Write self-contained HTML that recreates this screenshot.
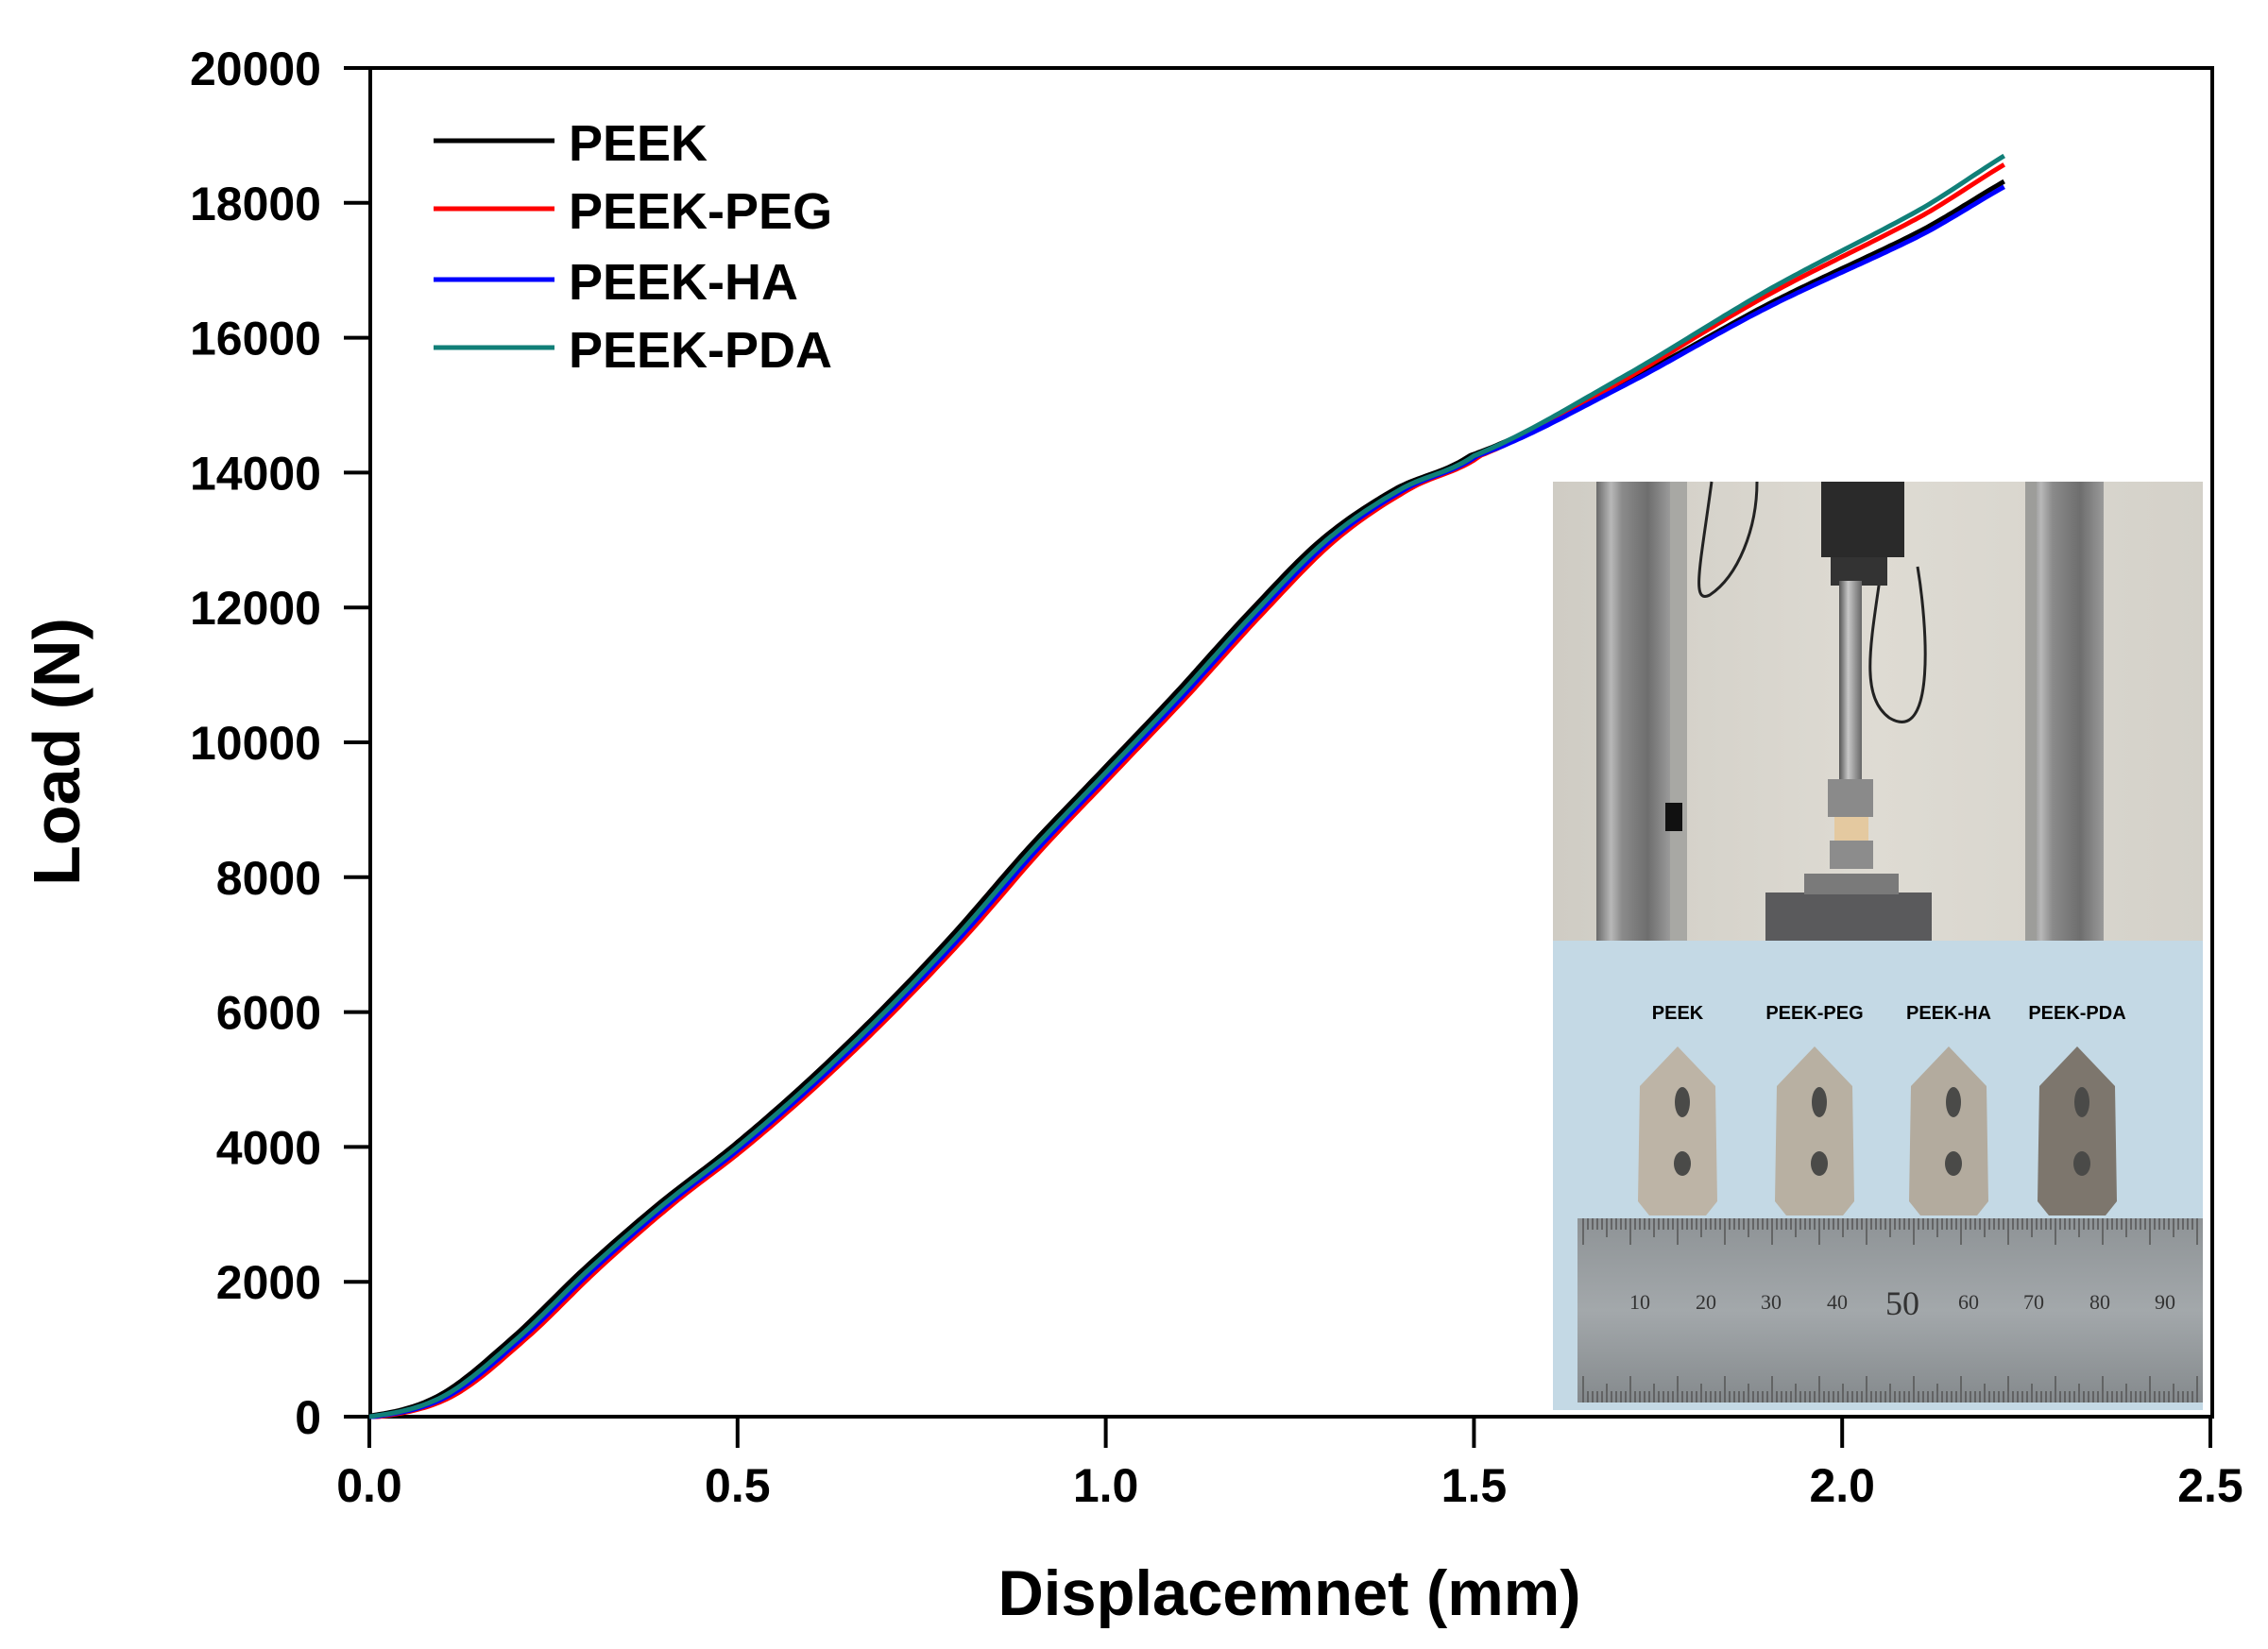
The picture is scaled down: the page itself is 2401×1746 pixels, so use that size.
<!DOCTYPE html>
<html><head><meta charset="utf-8"><style>
html,body{margin:0;padding:0;background:#fff;}
svg{display:block;}
text{font-family:"Liberation Sans",Arial,sans-serif;font-weight:bold;fill:#000;}
</style></head><body>
<svg id="s" width="2401" height="1746" viewBox="0 0 2401 1746" xmlns="http://www.w3.org/2000/svg">
<rect width="2401" height="1746" fill="#fff"/>
<defs>
<linearGradient id="wall" x1="0" x2="1"><stop offset="0" stop-color="#cfccc4"/><stop offset="0.5" stop-color="#dedbd3"/><stop offset="1" stop-color="#d4d1c9"/></linearGradient>
<linearGradient id="col" x1="0" x2="1"><stop offset="0" stop-color="#6a6a6a"/><stop offset="0.2" stop-color="#b8b8b8"/><stop offset="0.35" stop-color="#8a8a8a"/><stop offset="0.7" stop-color="#6e6e6e"/><stop offset="1" stop-color="#9a9a9a"/></linearGradient>
<linearGradient id="rod" x1="0" x2="1"><stop offset="0" stop-color="#555"/><stop offset="0.4" stop-color="#c8c8c8"/><stop offset="1" stop-color="#666"/></linearGradient>
<linearGradient id="rul" x1="0" y1="0" x2="0" y2="1"><stop offset="0" stop-color="#8e9396"/><stop offset="0.5" stop-color="#a3a8ab"/><stop offset="1" stop-color="#858a8d"/></linearGradient>
</defs>
<g>
<rect x="1644" y="510" width="688" height="486" fill="url(#wall)"/>
<rect x="1690" y="510" width="78" height="486" fill="url(#col)"/>
<rect x="1768" y="510" width="18" height="486" fill="#a8a8a4"/>
<rect x="2144" y="510" width="83" height="486" fill="url(#col)"/>
<rect x="2144" y="510" width="12" height="486" fill="#9d9d9a"/>
<path d="M1812 510 C1800 600 1790 640 1810 630 C1840 610 1860 560 1860 510" fill="none" stroke="#222" stroke-width="3"/>
<path d="M2000 530 C1990 650 1960 730 2000 760 C2050 790 2040 660 2030 600" fill="none" stroke="#222" stroke-width="3"/>
<rect x="1928" y="510" width="88" height="80" fill="#2a2a2a"/>
<rect x="1938" y="590" width="60" height="30" fill="#333"/>
<rect x="1947" y="615" width="24" height="210" fill="url(#rod)"/>
<rect x="1935" y="825" width="48" height="40" fill="#8a8a8a"/>
<rect x="1942" y="865" width="36" height="25" fill="#e4c9a0"/>
<rect x="1937" y="890" width="46" height="30" fill="#8c8c8c"/>
<rect x="1869" y="945" width="176" height="51" fill="#5a5a5c"/>
<rect x="1910" y="925" width="100" height="22" fill="#7a7a7a"/>
<rect x="1763" y="850" width="18" height="30" fill="#111"/>
<rect x="1644" y="996" width="688" height="497" fill="#c4d9e5"/>
<g font-size="20">
<text x="1776" y="1079" text-anchor="middle" fill="#222">PEEK</text>
<text x="1921" y="1079" text-anchor="middle" fill="#222">PEEK-PEG</text>
<text x="2063" y="1079" text-anchor="middle" fill="#222">PEEK-HA</text>
<text x="2199" y="1079" text-anchor="middle" fill="#222">PEEK-PDA</text>
</g>
<g id="imps"></g>
<rect x="1670" y="1290" width="662" height="195" fill="url(#rul)"/>
<g id="ticks" stroke="#555" stroke-width="1.5"></g>
<g>
<text x="1736" y="1386" text-anchor="middle" font-size="22" style="font-family:'Liberation Serif';font-weight:normal;fill:#333">10</text>
<text x="1806" y="1386" text-anchor="middle" font-size="22" style="font-family:'Liberation Serif';font-weight:normal;fill:#333">20</text>
<text x="1875" y="1386" text-anchor="middle" font-size="22" style="font-family:'Liberation Serif';font-weight:normal;fill:#333">30</text>
<text x="1945" y="1386" text-anchor="middle" font-size="22" style="font-family:'Liberation Serif';font-weight:normal;fill:#333">40</text>
<text x="2014" y="1392" text-anchor="middle" font-size="36" style="font-family:'Liberation Serif';font-weight:normal;fill:#333">50</text>
<text x="2084" y="1386" text-anchor="middle" font-size="22" style="font-family:'Liberation Serif';font-weight:normal;fill:#333">60</text>
<text x="2153" y="1386" text-anchor="middle" font-size="22" style="font-family:'Liberation Serif';font-weight:normal;fill:#333">70</text>
<text x="2223" y="1386" text-anchor="middle" font-size="22" style="font-family:'Liberation Serif';font-weight:normal;fill:#333">80</text>
<text x="2292" y="1386" text-anchor="middle" font-size="22" style="font-family:'Liberation Serif';font-weight:normal;fill:#333">90</text>
</g>
</g>
<rect x="392" y="72" width="1950" height="1428" fill="none" stroke="#000" stroke-width="4"/>
<g id="axticks" stroke="#000" stroke-width="4"></g>
<g id="ylab" font-size="50" text-anchor="end"></g>
<g id="xlab" font-size="50" text-anchor="middle"></g>
<text x="1365" y="1710" font-size="68" text-anchor="middle" textLength="617" lengthAdjust="spacingAndGlyphs">Displacemnet (mm)</text>
<text transform="translate(84,796) rotate(-90)" font-size="70" text-anchor="middle">Load (N)</text>
<line x1="459" y1="149" x2="587" y2="149" stroke="#000" stroke-width="5"/>
<line x1="459" y1="221" x2="587" y2="221" stroke="#f00" stroke-width="5"/>
<line x1="459" y1="296" x2="587" y2="296" stroke="#00f" stroke-width="5"/>
<line x1="459" y1="368" x2="587" y2="368" stroke="#117f78" stroke-width="5"/>
<g font-size="54">
<text x="602" y="170">PEEK</text>
<text x="602" y="242">PEEK-PEG</text>
<text x="602" y="317">PEEK-HA</text>
<text x="602" y="389">PEEK-PDA</text>
</g>
<g id="curves" fill="none" stroke-width="5" stroke-linejoin="round"></g>
</svg>
<script>
var NS="http://www.w3.org/2000/svg";
function el(p,t,a){var e=document.createElementNS(NS,t);for(var k in a)e.setAttribute(k,a[k]);document.getElementById(p).appendChild(e);return e;}
var X=function(d){return 391+d*779.6}, Y=function(L){return 1500-L*0.0714};
for(var i=0;i<=10;i++){var L=i*2000,y=Y(L);el('axticks','line',{x1:364,y1:y,x2:392,y2:y});
 var t=el('ylab','text',{x:340,y:y+18});t.textContent=L;}
for(var i=0;i<=5;i++){var x=X(i*0.5);el('axticks','line',{x1:x,y1:1500,x2:x,y2:1533});
 var t=el('xlab','text',{x:x,y:1590});t.textContent=(i*0.5).toFixed(1);}
var base=[[0,0],[0.1,300],[0.2,1150],[0.3,2200],[0.4,3150],[0.5,4000],[0.6,4950],[0.7,6000],[0.8,7150],[0.9,8400],[1.0,9550],[1.1,10700],[1.2,11900],[1.3,13000],[1.4,13750],[1.5,14250],[1.7,15300],[1.9,16500],[2.1,17550],[2.3,18700]];
function interp(d){for(var i=1;i<base.length;i++){if(d<=base[i][0]){var a=base[i-1],b=base[i],t=(d-a[0])/(b[0]-a[0]);
 var p0=base[Math.max(i-2,0)],p3=base[Math.min(i+1,base.length-1)];
 var t2=t*t,t3=t2*t;return 0.5*((2*a[1])+(-p0[1]+b[1])*t+(2*p0[1]-5*a[1]+4*b[1]-p3[1])*t2+(-p0[1]+3*a[1]-3*b[1]+p3[1])*t3);}}return base[base.length-1][1];}
var series=[["#000",-0.008,0],["#f00",0.012,250],["#00f",0.006,-80],["#117f78",0,380]];
series.forEach(function(s){var pts=[];for(var d=0;d<=2.2201;d+=0.005){var dd=Math.max(0,d-s[1]*(d<1.4?1:Math.max(0,(1.8-d)/0.4)));
 var L=interp(dd)+s[2]*Math.max(0,(d-1.5)/0.72);pts.push(X(d).toFixed(1)+","+Y(L).toFixed(1));}
 el('curves','polyline',{points:pts.join(" "),stroke:s[0]});});
[[1776,"#bdb4a6"],[1921,"#b8b0a2"],[2063,"#b3ab9e"],[2199,"#7d766d"]].forEach(function(c){var x=c[0];
 el('imps','polygon',{points:[x,1108,x+40,1150,x+42,1272,x+30,1287,x-30,1287,x-42,1272,x-40,1150].join(" "),fill:c[1]});
 el('imps','ellipse',{cx:x+5,cy:1167,rx:8,ry:16,fill:"#4a4a48"});
 el('imps','ellipse',{cx:x+5,cy:1232,rx:9,ry:13,fill:"#4a4a48"});});
for(var i=0;i<=130;i++){var x=1676+i*5,h=(i%10==0)?28:(i%5==0?20:12);
 el('ticks','line',{x1:x,y1:1290,x2:x,y2:1290+h});el('ticks','line',{x1:x,y1:1485,x2:x,y2:1485-h});}
</script>
</body></html>
